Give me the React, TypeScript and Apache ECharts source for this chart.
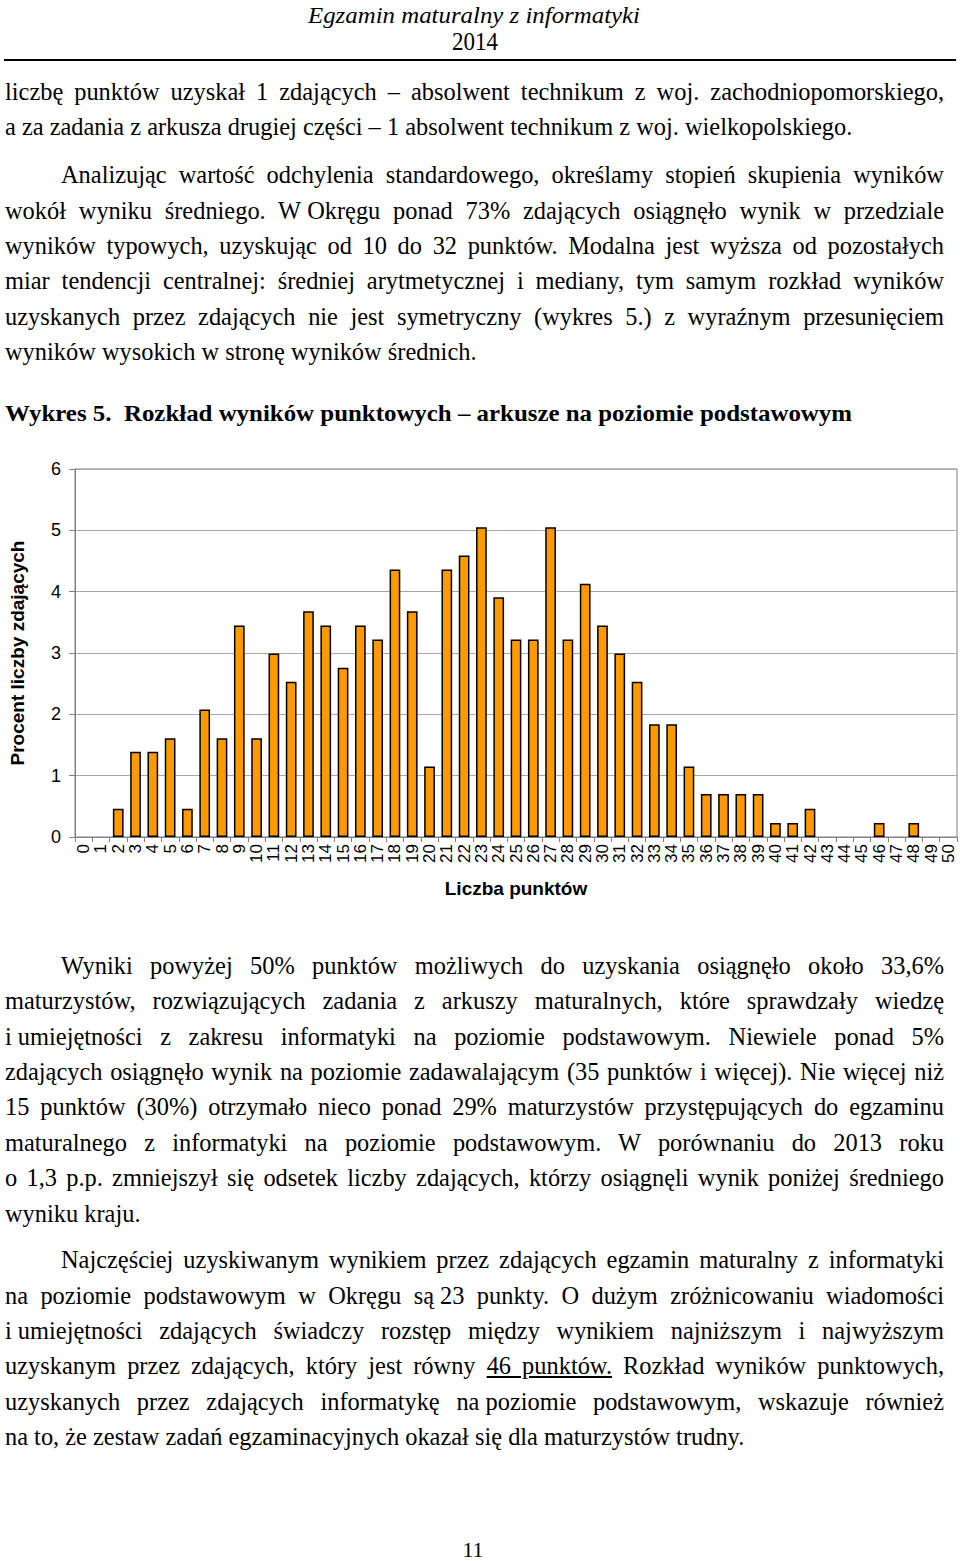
import React, { useEffect, useLayoutEffect, useRef } from "react";
import * as echarts from "echarts";

// ---------- chart data ----------
const categories = [
  "0", "1", "2", "3", "4", "5", "6", "7", "8", "9",
  "10", "11", "12", "13", "14", "15", "16", "17", "18", "19",
  "20", "21", "22", "23", "24", "25", "26", "27", "28", "29",
  "30", "31", "32", "33", "34", "35", "36", "37", "38", "39",
  "40", "41", "42", "43", "44", "45", "46", "47", "48", "49", "50",
];
const percents = [
  0, 0, 0.46, 1.39, 1.39, 1.61, 0.46, 2.08, 1.61, 3.45,
  1.61, 2.99, 2.53, 3.68, 3.45, 2.76, 3.45, 3.22, 4.36, 3.68,
  1.15, 4.36, 4.59, 5.05, 3.91, 3.22, 3.22, 5.05, 3.22, 4.13,
  3.45, 2.99, 2.53, 1.84, 1.84, 1.15, 0.7, 0.7, 0.7, 0.7,
  0.23, 0.23, 0.46, 0, 0, 0, 0.23, 0, 0.23, 0, 0,
];
const yMin = 0;
const yMax = 6;
const yStep = 1;
const xAxisName = "Liczba punktów";
const yAxisName = "Procent liczby zdających";

// ---------- page texts ----------
const headerTitle = "Egzamin maturalny z informatyki";
const headerYear = "2014";
const chartTitle = "Wykres 5.  Rozkład wyników punktowych – arkusze na poziomie podstawowym";
const pageNumber = "11";

type Seg = { t: string; u?: boolean };
type Para = { indent: boolean; lines: Seg[][] };

const para1: Para = {
  indent: false,
  lines: [
    [{ t: "liczbę punktów uzyskał 1 zdających – absolwent technikum z woj. zachodniopomorskiego," }],
    [{ t: "a za zadania z arkusza drugiej części – 1 absolwent technikum z woj. wielkopolskiego." }],
  ],
};
const para2: Para = {
  indent: true,
  lines: [
    [{ t: "Analizując wartość odchylenia standardowego, określamy stopień skupienia wyników" }],
    [{ t: "wokół wyniku średniego. W\u2005Okręgu ponad 73% zdających osiągnęło wynik w przedziale" }],
    [{ t: "wyników typowych, uzyskując od 10 do 32 punktów. Modalna jest wyższa od pozostałych" }],
    [{ t: "miar tendencji centralnej: średniej arytmetycznej i mediany, tym samym rozkład wyników" }],
    [{ t: "uzyskanych przez zdających nie jest symetryczny (wykres 5.) z wyraźnym przesunięciem" }],
    [{ t: "wyników wysokich w stronę wyników średnich." }],
  ],
};
const para3: Para = {
  indent: true,
  lines: [
    [{ t: "Wyniki powyżej 50% punktów możliwych do uzyskania osiągnęło około 33,6%" }],
    [{ t: "maturzystów, rozwiązujących zadania z arkuszy maturalnych, które sprawdzały wiedzę" }],
    [{ t: "i\u2005umiejętności z zakresu informatyki na poziomie podstawowym. Niewiele ponad 5%" }],
    [{ t: "zdających osiągnęło wynik na poziomie zadawalającym (35 punktów i więcej). Nie więcej niż" }],
    [{ t: "15 punktów (30%) otrzymało nieco ponad 29% maturzystów przystępujących do egzaminu" }],
    [{ t: "maturalnego z informatyki na poziomie podstawowym. W porównaniu do 2013 roku" }],
    [{ t: "o 1,3 p.p. zmniejszył się odsetek liczby zdających, którzy osiągnęli wynik poniżej średniego" }],
    [{ t: "wyniku kraju." }],
  ],
};
const para4: Para = {
  indent: true,
  lines: [
    [{ t: "Najczęściej uzyskiwanym wynikiem przez zdających egzamin maturalny z informatyki" }],
    [{ t: "na poziomie podstawowym w Okręgu są\u200523 punkty. O dużym zróżnicowaniu wiadomości" }],
    [{ t: "i\u2005umiejętności zdających świadczy rozstęp między wynikiem najniższym i najwyższym" }],
    [
      { t: "uzyskanym przez zdających, który jest równy " },
      { t: "46 punktów.", u: true },
      { t: " Rozkład wyników punktowych," },
    ],
    [{ t: "uzyskanych przez zdających informatykę na\u2005poziomie podstawowym, wskazuje również" }],
    [{ t: "na to, że zestaw zadań egzaminacyjnych okazał się dla maturzystów trudny." }],
  ],
};

// ---------- layout ----------
const SERIF = '"Liberation Serif", "Times New Roman", serif';
const SANS = '"Liberation Sans", Arial, sans-serif';
const BODY_FONT = 24.4;
const LINE_GAP = 35.4;
const LINE_H = 36;
const BASELINE_OFFSET = (LINE_H - BODY_FONT * 1.107) / 2 + BODY_FONT * 0.891;
const TEXT_LEFT = 5;
const INDENT_LEFT = 61;
const TEXT_RIGHT = 944;
const CHART_TOP = 440;
const CHART_HEIGHT = 480;

function FitText(props: { text: string; width: number; style: React.CSSProperties }) {
  const ref = useRef<HTMLSpanElement>(null);
  useLayoutEffect(() => {
    const el = ref.current;
    if (!el) return;
    el.style.transform = "";
    const w = el.getBoundingClientRect().width;
    if (w > 0) el.style.transform = `scaleX(${props.width / w})`;
  }, [props.text, props.width]);
  return (
    <span
      ref={ref}
      style={{ display: "inline-block", whiteSpace: "nowrap", transformOrigin: "left top", ...props.style }}
    >
      {props.text}
    </span>
  );
}

function JustLine(props: { segs: Seg[]; left: number; top: number; justify: boolean }) {
  const { segs, left, top, justify } = props;
  const ref = useRef<HTMLSpanElement>(null);
  const width = TEXT_RIGHT - left;
  useLayoutEffect(() => {
    const el = ref.current;
    if (!el || !justify) return;
    el.style.wordSpacing = "0px";
    const natural = el.getBoundingClientRect().width;
    const text = segs.map((s) => s.t).join("");
    const spaces = text.split(" ").length - 1;
    if (spaces > 0) el.style.wordSpacing = `${(width - natural) / spaces}px`;
  }, [segs, width, justify]);
  return (
    <div
      style={{
        position: "absolute",
        left,
        top,
        fontFamily: SERIF,
        fontSize: BODY_FONT,
        lineHeight: `${LINE_H}px`,
        color: "#000",
        whiteSpace: "pre",
      }}
    >
      <span ref={ref}>
        {segs.map((s, j) =>
          s.u ? (
            <span key={j} style={{ textDecoration: "underline" }}>
              {s.t}
            </span>
          ) : (
            <React.Fragment key={j}>{s.t}</React.Fragment>
          )
        )}
      </span>
    </div>
  );
}

function Paragraph(props: { para: Para; firstBaseline: number }) {
  const { para, firstBaseline } = props;
  return (
    <>
      {para.lines.map((segs, i) => (
        <JustLine
          key={i}
          segs={segs}
          left={i === 0 && para.indent ? INDENT_LEFT : TEXT_LEFT}
          top={firstBaseline + i * LINE_GAP - BASELINE_OFFSET}
          justify={i !== para.lines.length - 1}
        />
      ))}
    </>
  );
}

function Chart() {
  const ref = useRef<HTMLDivElement>(null);
  useEffect(() => {
    if (!ref.current) return;
    const chart = echarts.init(ref.current, undefined, { renderer: "svg" });
    chart.setOption({
      animation: false,
      grid: {
        left: 73,
        right: 3,
        top: 29,
        bottom: 83,
        show: true,
        borderColor: "#808080",
        borderWidth: 1,
        backgroundColor: "transparent",
      },
      xAxis: {
        type: "category",
        data: categories,
        name: xAxisName,
        nameLocation: "middle",
        nameGap: 42,
        nameTextStyle: { fontFamily: SANS, fontSize: 19, fontWeight: "bold", color: "#000" },
        axisLine: { show: true, lineStyle: { color: "#808080", width: 1 } },
        axisTick: { show: true, interval: 0, length: 5, lineStyle: { color: "#808080" } },
        axisLabel: { rotate: 90, interval: 0, fontFamily: SANS, fontSize: 17, color: "#000", margin: 7 },
        splitLine: { show: false },
      },
      yAxis: {
        type: "value",
        min: yMin,
        max: yMax,
        interval: yStep,
        name: yAxisName,
        nameLocation: "middle",
        nameRotate: 90,
        nameGap: 48,
        nameTextStyle: { fontFamily: SANS, fontSize: 19, fontWeight: "bold", color: "#000" },
        axisLine: { show: true, lineStyle: { color: "#808080", width: 1 } },
        axisTick: { show: true, length: 6, lineStyle: { color: "#808080" } },
        axisLabel: { fontFamily: SANS, fontSize: 18, color: "#000", margin: 14 },
        splitLine: { show: true, lineStyle: { color: "#a8a8a8", width: 1 } },
      },
      series: [
        {
          type: "bar",
          data: percents.map((v) => (v === 0 ? null : v)),
          barWidth: "62%",
          itemStyle: { color: "#FF9900", borderColor: "#000000", borderWidth: 1.5 },
        },
      ],
    });
    return () => chart.dispose();
  }, []);
  return (
    <div
      ref={ref}
      style={{ position: "absolute", left: 0, top: CHART_TOP, width: 960, height: CHART_HEIGHT }}
    />
  );
}

export default function App() {
  return (
    <div
      style={{
        position: "absolute",
        left: 0,
        top: 0,
        width: 960,
        height: 1561,
        overflow: "hidden",
        background: "#fff",
      }}
    >
      {/* header */}
      <div style={{ position: "absolute", left: 308, top: 1, lineHeight: "28px", fontFamily: SERIF, fontSize: 24, fontStyle: "italic", color: "#000" }}>
        <FitText text={headerTitle} width={332} style={{}} />
      </div>
      <div style={{ position: "absolute", left: 452, top: 28, lineHeight: "28px", fontFamily: SERIF, fontSize: 25, color: "#000" }}>
        <FitText text={headerYear} width={46} style={{}} />
      </div>
      <div style={{ position: "absolute", left: 4, top: 59, width: 952, height: 2, background: "#000" }} />

      <Paragraph para={para1} firstBaseline={100} />
      <Paragraph para={para2} firstBaseline={183.5} />

      <div style={{ position: "absolute", left: 5, top: 395, lineHeight: "36px", fontFamily: SERIF, fontSize: 24, fontWeight: "bold", color: "#000" }}>
        <FitText text={chartTitle} width={847} style={{ whiteSpace: "pre" }} />
      </div>

      <Chart />

      <Paragraph para={para3} firstBaseline={974} />
      <Paragraph para={para4} firstBaseline={1268.5} />

      <div style={{ position: "absolute", left: 0, width: 946, top: 1541, textAlign: "center", lineHeight: "18px", fontFamily: SERIF, fontSize: 22, color: "#000" }}>
        {pageNumber}
      </div>
    </div>
  );
}
